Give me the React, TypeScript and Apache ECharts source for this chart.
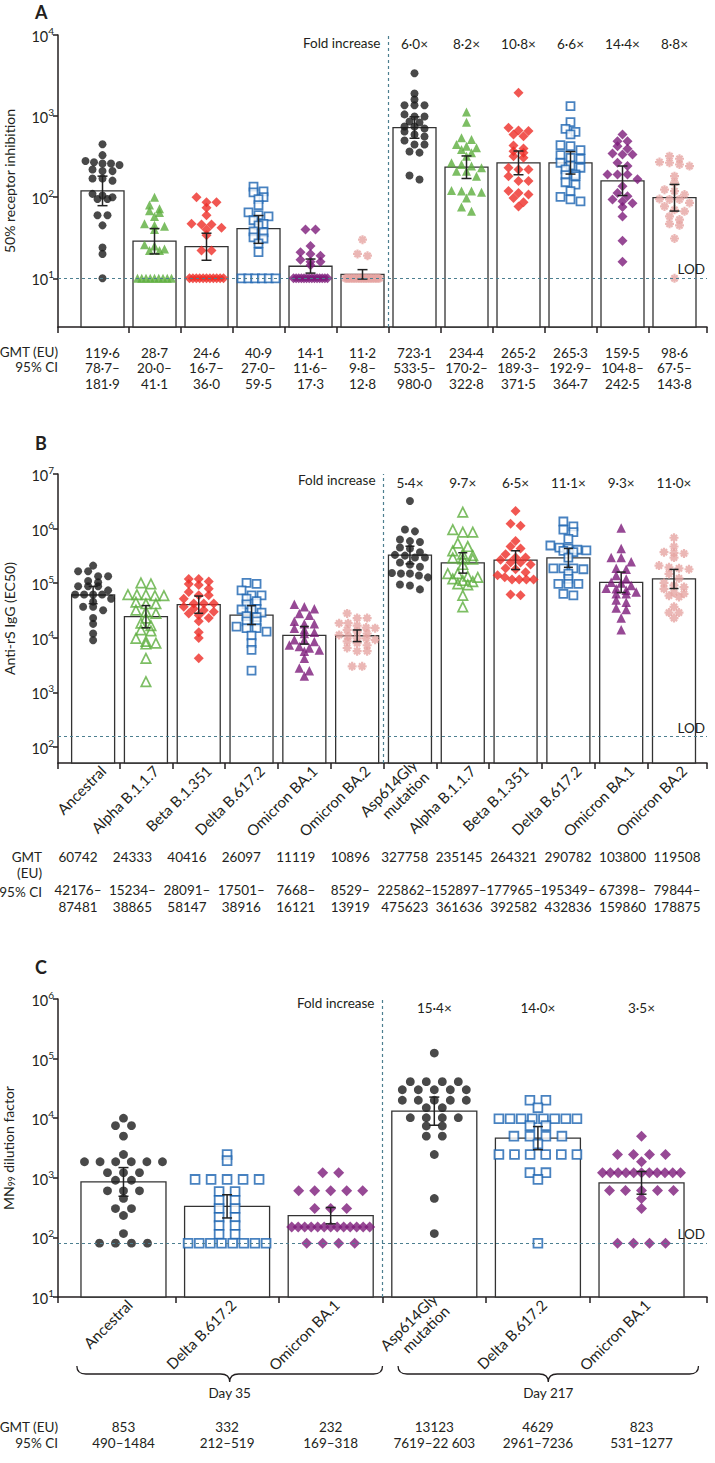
import React, { useEffect, useRef } from "react";
import * as echarts from "echarts";

const FONT = "Lato, 'Open Sans', sans-serif";
const INK = "#231f20";
const DASH = "#4d7f90";

// ---------------- categories ----------------
const variantsAB = ["Ancestral", "Alpha B.1.1.7", "Beta B.1.351", "Delta B.617.2", "Omicron BA.1", "Omicron BA.2", "Asp614Gly\nmutation", "Alpha B.1.1.7", "Beta B.1.351", "Delta B.617.2", "Omicron BA.1", "Omicron BA.2"];
const variantsC = ["Ancestral", "Delta B.617.2", "Omicron BA.1", "Asp614Gly\nmutation", "Delta B.617.2", "Omicron BA.1"];
const daysC = ["Day 35", "Day 217"];

// ---------------- panel A: 50% receptor inhibition ----------------
const gmtA = [119.6, 28.7, 24.6, 40.9, 14.1, 11.2, 723.1, 234.4, 265.2, 265.3, 159.5, 98.6];
const ciLowA = [78.7, 20.0, 16.7, 27.0, 11.6, 9.8, 533.5, 170.2, 189.3, 192.9, 104.8, 67.5];
const ciHighA = [181.9, 41.1, 36.0, 59.5, 17.3, 12.8, 980.0, 322.8, 371.5, 364.7, 242.5, 143.8];
const foldA = [6.0, 8.2, 10.8, 6.6, 14.4, 8.8];
const lodA = 10;
const ancestralA = [450, 330, 280, 270, 260, 260, 250, 220, 210, 210, 170, 170, 160, 110, 105, 100, 95, 95, 60, 60, 45, 24, 20, 10];
const alphaA = [100, 80, 72, 68, 65, 58, 47, 45, 44, 40, 26, 25, 23, 22, 22, 10, 10, 10, 10, 10, 10, 10, 10, 10];
const betaA = [100, 87, 87, 74, 60, 47, 46, 46, 42, 40, 34, 22, 22, 10, 10, 10, 10, 10, 10, 10, 10, 10, 10, 10];
const deltaA = [135, 118, 115, 100, 95, 80, 65, 60, 58, 52, 47, 45, 38, 37, 32, 31, 27, 21, 10, 10, 10, 10, 10, 10];
const ba1A = [40, 40, 25, 21, 20, 19, 17, 16, 16, 14.5, 10, 10, 10, 10, 10, 10, 10, 10, 10, 10, 10, 10, 10, 10];
const ba2A = [30, 20, 19, 10, 10, 10, 10, 10, 10, 10, 10, 10, 10, 10, 10, 10, 10, 10, 10, 10, 10, 10, 10, 10];
const d614A = [3380, 1900, 1600, 1360, 1360, 1360, 1050, 990, 990, 860, 835, 745, 745, 705, 645, 595, 560, 500, 447, 447, 366, 355, 185, 165];
const alpha2A = [1120, 843, 541, 515, 448, 426, 407, 388, 353, 321, 266, 253, 242, 231, 209, 209, 182, 121, 119, 119, 115, 98, 76, 67];
const beta2A = [1945, 720, 665, 653, 594, 566, 435, 399, 370, 353, 321, 306, 231, 220, 220, 182, 158, 158, 119, 113, 108, 98, 87, 77];
const delta2A = [1330, 843, 698, 641, 594, 438, 426, 381, 330, 306, 298, 266, 246, 231, 220, 191, 187, 182, 153, 143, 119, 101, 94, 89];
const ba1bA = [594, 491, 491, 426, 396, 347, 337, 337, 266, 242, 191, 191, 191, 166, 137, 113, 103, 94, 89, 84, 76, 58, 29, 16];
const ba2bA = [321, 298, 271, 266, 253, 242, 182, 151, 124, 119, 108, 95, 94, 94, 85, 77, 70, 67, 58, 53, 47, 45, 31, 10];

// ---------------- panel B: anti-rS IgG ----------------
const gmtB = [60742, 24333, 40416, 26097, 11119, 10896, 327758, 235145, 264321, 290782, 103800, 119508];
const ciLowB = [42176, 15234, 28091, 17501, 7668, 8529, 225862, 152897, 177965, 195349, 67398, 79844];
const ciHighB = [87481, 38865, 58147, 38916, 16121, 13919, 475623, 361636, 392582, 432836, 159860, 178875];
const foldB = [5.4, 9.7, 6.5, 11.1, 9.3, 11.0];
const lodB = 155;
const ancestralB = [210000, 165000, 165000, 134000, 134000, 110000, 104000, 88000, 88000, 88000, 74000, 62000, 62000, 62000, 62000, 52000, 46000, 37000, 37000, 32000, 23000, 18000, 12000, 9000];
const alphaB = [101000, 97000, 62000, 62000, 62000, 59000, 59000, 45000, 42000, 42000, 32000, 30000, 28000, 23000, 18500, 16700, 14000, 13400, 9800, 8600, 8000, 7700, 4200, 1580];
const betaB = [120000, 120000, 107000, 97000, 93000, 79000, 69000, 60000, 60000, 52000, 42400, 42400, 42400, 37000, 34000, 32000, 30000, 28000, 26000, 23000, 20000, 12600, 9900, 4200];
const deltaB = [101000, 97000, 74000, 60000, 60000, 52000, 47000, 41000, 34000, 33000, 33000, 29000, 25000, 24000, 20000, 20000, 16000, 15000, 15000, 13000, 11000, 8000, 6000, 2500];
const ba1B = [41000, 37000, 34000, 28000, 26000, 20000, 18000, 18000, 15000, 14000, 12600, 12000, 9200, 9200, 8600, 7400, 6900, 6500, 6000, 5700, 4200, 2800, 2500, 2000];
const ba2B = [28000, 23000, 23000, 18500, 18500, 16700, 15400, 15000, 14000, 13000, 12000, 11300, 10600, 9800, 9800, 9200, 8600, 8000, 7300, 6500, 5700, 5700, 3000, 3000];
const d614B = [3200000, 960000, 890000, 630000, 590000, 570000, 450000, 430000, 370000, 330000, 320000, 295000, 295000, 240000, 220000, 200000, 154000, 150000, 150000, 138000, 128000, 95000, 91000, 77000];
const alpha2B = [2000000, 960000, 860000, 860000, 540000, 470000, 390000, 340000, 320000, 290000, 280000, 275000, 220000, 150000, 150000, 134000, 128000, 120000, 112000, 107000, 97000, 93000, 60000, 37000];
const beta2B = [2100000, 1230000, 1130000, 590000, 470000, 430000, 340000, 295000, 295000, 270000, 240000, 240000, 220000, 187000, 180000, 158000, 140000, 128000, 117000, 117000, 117000, 117000, 62000, 60000];
const delta2B = [1350000, 1100000, 960000, 860000, 650000, 490000, 450000, 430000, 410000, 400000, 390000, 370000, 295000, 187000, 187000, 187000, 180000, 150000, 120000, 97000, 97000, 97000, 64000, 60000];
const ba1bB = [1030000, 430000, 295000, 295000, 246000, 187000, 180000, 138000, 120000, 104000, 101000, 91000, 81000, 79000, 74000, 69000, 64000, 64000, 49000, 45000, 35000, 33000, 23000, 14000];
const ba2bB = [680000, 470000, 370000, 360000, 350000, 295000, 210000, 195000, 187000, 180000, 148000, 123000, 101000, 91000, 85000, 79000, 67000, 64000, 59000, 56000, 37000, 29000, 29000, 23000];

// ---------------- panel C: MN99 dilution factor ----------------
const gmtC = [853, 332, 232, 13123, 4629, 823];
const ciLowC = [490, 212, 169, 7619, 2961, 531];
const ciHighC = [1484, 519, 318, 22603, 7236, 1277];
const foldC = [15.4, 14.0, 3.5];
const lodC = 80;
const ancestralC = [10000, 7500, 7500, 5000, 2460, 1860, 1860, 1860, 1860, 1860, 1860, 1220, 1220, 1220, 910, 910, 605, 605, 605, 450, 305, 305, 233, 116, 80, 80, 80, 80];
const deltaC = [2450, 1940, 940, 940, 940, 940, 940, 590, 590, 420, 420, 305, 305, 218, 218, 158, 158, 113, 113, 80, 80, 80, 80, 80, 80, 80, 80];
const ba1C = [1220, 1220, 605, 605, 605, 605, 605, 305, 305, 305, 150, 150, 150, 150, 150, 150, 150, 150, 150, 150, 150, 150, 150, 80, 80, 80, 80];
const d614C = [124000, 41000, 41000, 41000, 41000, 30000, 30000, 30000, 30000, 30000, 20000, 20000, 20000, 20000, 20000, 15000, 15000, 10200, 10200, 10200, 10200, 7400, 7400, 5000, 5000, 2460, 450, 116];
const delta2C = [20000, 20000, 15000, 9800, 9800, 9800, 9800, 9800, 9800, 9800, 9800, 7500, 7500, 5000, 5000, 5000, 5000, 3700, 2460, 2460, 2460, 2460, 2460, 2460, 1220, 1220, 940, 80];
const ba1bC = [5000, 2460, 2460, 2460, 2460, 1860, 1220, 1220, 1220, 1220, 1220, 1220, 1220, 1220, 1220, 1220, 1220, 610, 610, 610, 610, 610, 450, 305, 80, 80, 80, 80];

// ---------------- styles ----------------
const STAR = "path://M5,0L5,10M0,5L10,5M1.6,1.6L8.4,8.4M1.6,8.4L8.4,1.6";
const MK: Record<string, any> = {
  blackCircle: { symbol: "circle", size: 8, itemStyle: { color: "#1c1c1c" } },
  greenTri: { symbol: "triangle", size: 9, itemStyle: { color: "#5cae3d" } },
  greenTriOpen: { symbol: "triangle", size: 9.5, itemStyle: { color: "rgba(255,255,255,0)", borderColor: "#5cae3d", borderWidth: 1.7 } },
  redDiamond: { symbol: "diamond", size: 10, itemStyle: { color: "#ee2d27" } },
  blueSquare: { symbol: "rect", size: 8, itemStyle: { color: "#ffffff", borderColor: "#1a63b0", borderWidth: 1.8 } },
  purpleDiamond: { symbol: "diamond", size: 10, itemStyle: { color: "#7d1b7b" } },
  purpleTri: { symbol: "triangle", size: 9.5, itemStyle: { color: "#7d1b7b" } },
  pinkStar: { symbol: STAR, size: 9, itemStyle: { color: "rgba(0,0,0,0)", borderColor: "#e6a5a2", borderWidth: 2.2 } },
};

const fmtDot = (v: number) => v.toFixed(1).replace(".", "·");
const spaced = (n: number) => (n >= 10000 ? String(n).replace(/\B(?=(\d{3})+(?!\d))/g, " ") : String(n));

const PLOT_L = 58;
const PLOT_R = 707;
const PLOT_W = PLOT_R - PLOT_L;
const FS = 13.5; // table / annotation font size

const panels = [
  {
    letter: "A", letterY: 12, top: 35, height: 292, yMin: 0.4, yMax: 4, xMin: -0.856, xMax: 11.625,
    groups: [ancestralA, alphaA, betaA, deltaA, ba1A, ba2A, d614A, alpha2A, beta2A, delta2A, ba1bA, ba2bA],
    marks: ["blackCircle", "greenTri", "redDiamond", "blueSquare", "purpleDiamond", "pinkStar", "blackCircle", "greenTri", "redDiamond", "blueSquare", "purpleDiamond", "pinkStar"],
    gmt: gmtA, lo: ciLowA, hi: ciHighA, fold: foldA, lod: lodA, names: null as string[] | null,
    yName: "50% receptor inhibition", yNameGap: 42, nameShift: 0,
    table: (i: number) => `${fmtDot(gmtA[i])}\n${fmtDot(ciLowA[i])}–\n${fmtDot(ciHighA[i])}`,
    tableMin: -0.856, tableMax: 11.625, tableMargin: 18, tableLH: 15.5,
    headers: [["GMT (EU)", 58, 352], ["95% CI", 58, 367]],
    barW: 43, cap: 10, gap: 10, span: 34, tol: 5, symScale: 1, foldInsideMargin: 2,
    foldLabelY: 43,
  },
  {
    letter: "B", letterY: 443, top: 474, height: 289, yMin: 1.707, yMax: 7, xMin: -0.665, xMax: 11.625,
    groups: [ancestralB, alphaB, betaB, deltaB, ba1B, ba2B, d614B, alpha2B, beta2B, delta2B, ba1bB, ba2bB],
    marks: ["blackCircle", "greenTriOpen", "redDiamond", "blueSquare", "purpleTri", "pinkStar", "blackCircle", "greenTriOpen", "redDiamond", "blueSquare", "purpleTri", "pinkStar"],
    gmt: gmtB, lo: ciLowB, hi: ciHighB, fold: foldB, lod: lodB, names: variantsAB,
    yName: "Anti-rS IgG (EC50)", yNameGap: 42, nameShift: 10,
    table: (i: number) => `${gmtB[i]}\n\n${ciLowB[i]}–\n${ciHighB[i]}`,
    tableMin: -0.367, tableMax: 11.551, tableMargin: 86, tableLH: 16.5,
    headers: [["GMT", 42, 857], ["(EU)", 42, 873], ["95% CI", 42, 892]],
    barW: 43, cap: 9, gap: 10, span: 36, tol: 5, symScale: 1, foldInsideMargin: 2,
    foldLabelY: 480,
  },
  {
    letter: "C", letterY: 967, top: 999, height: 298, yMin: 1, yMax: 6, xMin: -0.632, xMax: 5.632,
    groups: [ancestralC, deltaC, ba1C, d614C, delta2C, ba1bC],
    marks: ["blackCircle", "blueSquare", "purpleDiamond", "blackCircle", "blueSquare", "purpleDiamond"],
    gmt: gmtC, lo: ciLowC, hi: ciHighC, fold: foldC, lod: lodC, names: variantsC,
    yName: "MN{sub|99} dilution factor", yNameGap: 42, nameShift: 6,
    table: (i: number) => `${gmtC[i]}\n${ciLowC[i]}–${spaced(ciHighC[i])}`,
    tableMin: -0.632, tableMax: 5.632, tableMargin: 122, tableLH: 16,
    headers: [["GMT (EU)", 58, 1427], ["95% CI", 58, 1443]],
    barW: 85, cap: 10, gap: 16, span: 78, tol: 5, symScale: 1.1, foldInsideMargin: 2,
    foldLabelY: 1003,
  },
];

const pxOf = (p: any, v: number) => PLOT_L + ((v - p.xMin) / (p.xMax - p.xMin)) * PLOT_W;

// curly brace path (opening upward, tip pointing down)
const braceD = (w: number) => {
  const r = 9, h = 8, m = w / 2;
  return `M0,0 Q0,${h} ${r},${h} L${m - r},${h} Q${m},${h} ${m},${2 * h} Q${m},${h} ${m + r},${h} L${w - r},${h} Q${w},${h} ${w},0`;
};
const braceSpans = [[-0.45, 2.5], [2.65, 5.55]];
const braceW = braceSpans.map(([a, b]) => pxOf(panels[2], b) - pxOf(panels[2], a));
echarts.graphic.registerShape("braceDay35", (echarts.graphic as any).extendPath(braceD(braceW[0]), {}));
echarts.graphic.registerShape("braceDay217", (echarts.graphic as any).extendPath(braceD(braceW[1]), {}));

// row-based dot layout (beeswarm-like), computed from the values
function swarm(vals: number[], idx: number, ppd: number, ppc: number, gap: number, span: number, tol: number) {
  const pts = vals.map((v) => ({ v, y: Math.log10(v) * ppd })).sort((a, b) => b.y - a.y);
  const out: number[][] = [];
  let i = 0;
  while (i < pts.length) {
    let j = i + 1;
    while (j < pts.length && pts[i].y - pts[j].y < tol) j++;
    const k = j - i;
    const s = k > 1 ? Math.min(gap, span / (k - 1)) : 0;
    for (let m = 0; m < k; m++) {
      const off = (m - (k - 1) / 2) * s;
      out.push([idx + off / ppc, Math.log10(pts[i + m].v)]);
    }
    i = j;
  }
  return out;
}

function buildOption() {
  const xAxis: any[] = [];
  const yAxis: any[] = [];
  const series: any[] = [];
  const graphic: any[] = [];
  const grid: any[] = [];
  const axisLineStyle = { color: INK, width: 1.5 };

  panels.forEach((p, g) => {
    const n = p.gmt.length;
    const idx = Array.from({ length: n }, (_, i) => i);
    const bounds = Array.from({ length: n - 1 }, (_, i) => i + 0.5);
    const half = n / 2;
    const ppd = p.height / (p.yMax - p.yMin);
    const ppc = PLOT_W / (p.xMax - p.xMin);
    grid.push({ left: PLOT_L, right: 715 - PLOT_R, top: p.top, height: p.height, containLabel: false, outerBoundsMode: "none" });

    const mainX = xAxis.length;
    xAxis.push({
      type: "value", gridIndex: g, min: p.xMin, max: p.xMax, position: "bottom",
      axisLine: { show: true, onZero: false, lineStyle: axisLineStyle },
      axisTick: { show: true, customValues: [p.xMin, ...bounds, p.xMax], length: 6, lineStyle: axisLineStyle },
      axisLabel: { show: false },
      splitLine: { show: false },
    });
    // rotated category names (slightly shifted to the right like the original)
    if (p.names) {
      const sh = p.nameShift / ppc;
      xAxis.push({
        type: "value", gridIndex: g, min: p.xMin - sh, max: p.xMax - sh, position: "bottom",
        axisLine: { show: false }, axisTick: { show: false }, splitLine: { show: false },
        axisLabel: { show: true, customValues: idx, rotate: 45, margin: 5, fontSize: 15, lineHeight: 17, color: INK, fontFamily: FONT,
          formatter: (v: number) => p.names![Math.round(v)] },
      });
    }
    xAxis.push({
      type: "value", gridIndex: g, min: p.tableMin, max: p.tableMax, position: "bottom",
      axisLine: { show: false }, axisTick: { show: false }, splitLine: { show: false },
      axisLabel: { show: true, customValues: idx, margin: p.tableMargin, lineHeight: p.tableLH, fontSize: FS, color: INK, fontFamily: FONT,
        formatter: (v: number) => p.table(Math.round(v)) },
    });
    xAxis.push({
      type: "value", gridIndex: g, min: p.xMin, max: p.xMax, position: "top",
      axisLine: { show: false }, axisTick: { show: false }, splitLine: { show: false },
      axisLabel: { show: true, inside: true, customValues: p.fold.map((_, i) => i + half), margin: p.foldInsideMargin, fontSize: FS, color: INK, fontFamily: FONT,
        formatter: (v: number) => fmtDot(p.fold[Math.round(v) - half]) + "×" },
    });

    const decades: number[] = [];
    for (let d = Math.ceil(p.yMin - 1e-9); d <= p.yMax; d++) decades.push(d);
    yAxis.push({
      type: "value", gridIndex: g, min: p.yMin, max: p.yMax,
      axisLine: { show: true, onZero: false, lineStyle: axisLineStyle },
      axisTick: { show: true, customValues: decades, length: 5, lineStyle: axisLineStyle },
      axisLabel: {
        customValues: decades, margin: 4, color: INK, fontFamily: FONT,
        formatter: (v: number) => `{b|10}{s|${Math.round(v)}}`,
        rich: {
          b: { fontSize: 14.5, lineHeight: 18, verticalAlign: "bottom", color: INK, fontFamily: FONT },
          s: { fontSize: 10, lineHeight: 11, verticalAlign: "top", color: INK, fontFamily: FONT },
        },
      },
      splitLine: { show: false },
      name: p.yName, nameLocation: "middle", nameGap: p.yNameGap, nameRotate: 90,
      nameTextStyle: { fontSize: 14, color: INK, fontFamily: FONT,
        rich: { sub: { fontSize: 8.5, verticalAlign: "bottom", lineHeight: 15, color: INK, fontFamily: FONT } } },
    });

    // bars (GMT)
    series.push({
      type: "custom", xAxisIndex: mainX, yAxisIndex: g, z: 2, silent: true,
      data: p.gmt.map((v, i) => [i, Math.log10(v)]),
      encode: { x: 0, y: 1 },
      renderItem: (params: any, api: any) => {
        const x = api.value(0);
        const top = api.coord([x, api.value(1)]);
        const base = api.coord([x, p.yMin]);
        return { type: "rect", shape: { x: top[0] - p.barW / 2, y: top[1], width: p.barW, height: base[1] - top[1] },
          style: { fill: "#ffffff", stroke: "#333333", lineWidth: 1.3 } };
      },
      markLine: {
        silent: true, symbol: "none", animation: false,
        lineStyle: { color: DASH, type: [3, 3], width: 1.2 },
        data: [
          { yAxis: Math.log10(p.lod), label: { show: true, position: "insideEndTop", formatter: "LOD", color: INK, fontSize: FS, fontFamily: FONT, distance: 2 } },
          { xAxis: half - 0.5, label: { show: false } },
        ],
      },
    });

    // individual points
    p.groups.forEach((vals, i) => {
      const mk = MK[p.marks[i]];
      series.push({
        type: "scatter", xAxisIndex: mainX, yAxisIndex: g, z: 3, silent: true,
        symbol: mk.symbol, symbolSize: mk.size * p.symScale, itemStyle: mk.itemStyle,
        data: swarm(vals, i, ppd, ppc, p.gap, p.span, p.tol),
      });
    });

    // 95% CI error bars
    series.push({
      type: "custom", xAxisIndex: mainX, yAxisIndex: g, z: 4, silent: true,
      data: p.gmt.map((_, i) => [i, Math.log10(p.lo[i]), Math.log10(p.hi[i])]),
      encode: { x: 0, y: [1, 2] },
      renderItem: (params: any, api: any) => {
        const x = api.value(0);
        const a = api.coord([x, api.value(1)]);
        const b = api.coord([x, api.value(2)]);
        const c = p.cap / 2;
        const st = { stroke: "#222222", lineWidth: 1.5 };
        return { type: "group", children: [
          { type: "line", shape: { x1: a[0], y1: a[1], x2: b[0], y2: b[1] }, style: st },
          { type: "line", shape: { x1: a[0] - c, y1: a[1], x2: a[0] + c, y2: a[1] }, style: st },
          { type: "line", shape: { x1: b[0] - c, y1: b[1], x2: b[0] + c, y2: b[1] }, style: st },
        ] };
      },
    });

    // annotations
    graphic.push({ type: "text", x: 35, y: p.letterY, style: { text: p.letter, fontSize: 18, fontWeight: "bold", fontFamily: FONT, fill: INK, verticalAlign: "middle" } });
    graphic.push({ type: "text", x: pxOf(p, half - 0.5) - 8, y: p.foldLabelY, style: { text: "Fold increase", fontSize: FS, fontFamily: FONT, fill: INK, align: "right", verticalAlign: "middle" } });
    p.headers.forEach((h: any) => {
      graphic.push({ type: "text", x: h[1], y: h[2], style: { text: h[0], fontSize: FS, fontFamily: FONT, fill: INK, align: "right", verticalAlign: "middle" } });
    });
  });

  // braces and day labels under panel C
  const pc = panels[2];
  braceSpans.forEach(([a, b], k) => {
    const x0 = pxOf(pc, a);
    graphic.push({ type: k === 0 ? "braceDay35" : "braceDay217", x: x0, y: 1366, style: { fill: "none", stroke: INK, lineWidth: 1.3 } });
    graphic.push({ type: "text", x: (x0 + pxOf(pc, b)) / 2, y: 1393, style: { text: daysC[k], fontSize: FS, fontFamily: FONT, fill: INK, align: "center", verticalAlign: "middle" } });
  });

  return {
    animation: false,
    backgroundColor: "#ffffff",
    textStyle: { fontFamily: FONT, color: INK },
    grid, xAxis, yAxis, series, graphic,
  };
}

export default function App() {
  const ref = useRef<HTMLDivElement>(null);
  useEffect(() => {
    document.body.style.margin = "0";
    const chart = echarts.init(ref.current!, undefined, { renderer: "svg" });
    chart.setOption(buildOption() as any);
    return () => chart.dispose();
  }, []);
  return <div ref={ref} style={{ width: 715, height: 1463 }} />;
}
